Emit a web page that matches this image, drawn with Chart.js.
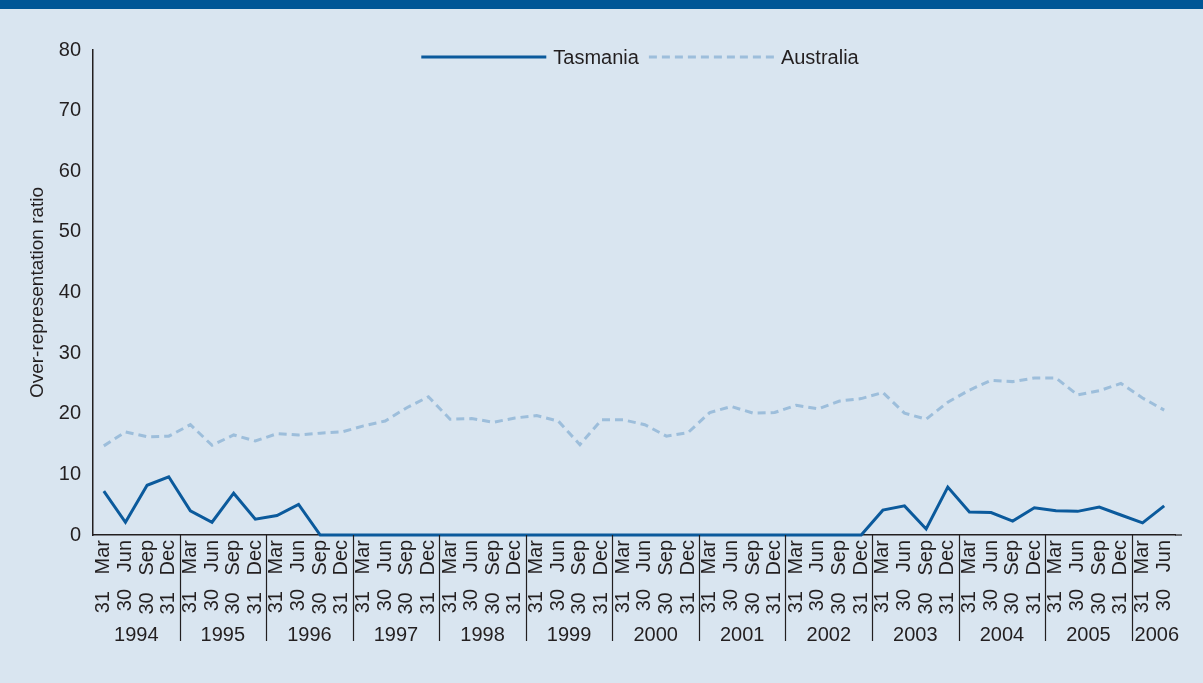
<!DOCTYPE html>
<html>
<head>
<meta charset="utf-8">
<script src="https://cdn.jsdelivr.net/npm/chart.js@4.4.1/dist/chart.umd.min.js"></script>
<style>
  html, body { margin: 0; padding: 0; background: #d9e5f0; }
  #band { position: absolute; left: 0; top: 0; width: 1203px; height: 9px; background: #005696; z-index: 2; }
  #chart { position: absolute; left: 0; top: 0; }
</style>
</head>
<body>
<div id="band"></div>
<canvas id="chart" width="1203" height="683"></canvas>
<script>
const years = ['1994', '1995', '1996', '1997', '1998', '1999', '2000', '2001', '2002', '2003', '2004', '2005', '2006'];
const quarterLabels = ['31 Mar', '30 Jun', '30 Sep', '31 Dec'];
const quartersPerYear = [4, 4, 4, 4, 4, 4, 4, 4, 4, 4, 4, 4, 2];

const tasmania = [
  7.25, 2.1, 8.2, 9.6,
  4.0, 2.1, 6.9, 2.6,
  3.2, 5.05, 0, 0,
  0, 0, 0, 0,
  0, 0, 0, 0,
  0, 0, 0, 0,
  0, 0, 0, 0,
  0, 0, 0, 0,
  0, 0, 0, 0,
  4.1, 4.8, 1.0, 7.9,
  3.8, 3.7, 2.3, 4.5,
  4.0, 3.9, 4.6, 3.3,
  2.0, 4.8
];

const australia = [
  14.7, 17.0, 16.2, 16.3,
  18.2, 14.8, 16.5, 15.5,
  16.7, 16.5, 16.8, 17.0,
  18.0, 18.8, 21.0, 22.8,
  19.1, 19.2, 18.6, 19.3,
  19.7, 18.8, 14.9, 19.0,
  19.0, 18.2, 16.3, 16.9,
  20.2, 21.2, 20.1, 20.2,
  21.4, 20.8, 22.1, 22.5,
  23.5, 20.1, 19.1, 21.9,
  23.9, 25.5, 25.3, 25.9,
  25.9, 23.1, 23.8, 25.0,
  22.6, 20.6
];

// category labels built from the years and quarter names
const labels = [];
years.forEach((y, i) => {
  for (let q = 0; q < quartersPerYear[i]; q++) labels.push(quarterLabels[q]);
});

const TEXT = '#231f20';
const FONT = "'Liberation Sans', Arial, sans-serif";

// legend line inside the plot + year row under the rotated quarter labels
const extras = {
  id: 'extras',
  afterDraw(chart) {
    const x = chart.scales.x;
    const ctx = chart.ctx;
    const area = chart.chartArea;
    const half = (x.getPixelForValue(1) - x.getPixelForValue(0)) / 2;
    const bottom = area.bottom;
    ctx.save();

    // legend
    ctx.font = '20px ' + FONT;
    ctx.textBaseline = 'middle';
    ctx.textAlign = 'left';
    const sets = chart.data.datasets;
    const lineLen = 125, gap = 7, itemGap = 10;
    let total = 0;
    sets.forEach((ds, i) => {
      total += lineLen + gap + ctx.measureText(ds.label).width + (i > 0 ? itemGap : 0);
    });
    let lx = (area.left + area.right) / 2 + 6 - total / 2;
    const ly = 57;
    sets.forEach((ds) => {
      ctx.beginPath();
      ctx.strokeStyle = ds.borderColor;
      ctx.lineWidth = ds.borderWidth;
      ctx.setLineDash(ds.borderDash || []);
      ctx.moveTo(lx, ly);
      ctx.lineTo(lx + lineLen, ly);
      ctx.stroke();
      ctx.setLineDash([]);
      lx += lineLen + gap;
      ctx.fillStyle = TEXT;
      ctx.fillText(ds.label, lx, ly + 1);
      lx += ctx.measureText(ds.label).width + itemGap;
    });

    ctx.strokeStyle = TEXT;
    ctx.lineWidth = 1.2;
    // small extension of the axis line past the last quarter
    ctx.beginPath();
    ctx.moveTo(area.right, bottom);
    ctx.lineTo(area.right + 7, bottom);
    ctx.stroke();

    ctx.fillStyle = TEXT;
    ctx.textAlign = 'center';
    let idx = 0;
    years.forEach((y, i) => {
      const left = x.getPixelForValue(idx) - half;
      let right = x.getPixelForValue(idx + quartersPerYear[i] - 1) + half;
      if (i === years.length - 1) right += 7;
      if (i > 0) {
        ctx.beginPath();
        ctx.moveTo(Math.round(left) + 0.5, bottom);
        ctx.lineTo(Math.round(left) + 0.5, bottom + 106);
        ctx.stroke();
      }
      ctx.fillText(y, (left + right) / 2, 635);
      idx += quartersPerYear[i];
    });
    ctx.restore();
  }
};

new Chart(document.getElementById('chart'), {
  type: 'line',
  data: {
    labels: labels,
    datasets: [{
      label: 'Tasmania',
      data: tasmania,
      borderColor: '#0b5a9c',
      backgroundColor: '#0b5a9c',
      borderWidth: 3,
      pointRadius: 0,
      tension: 0,
      clip: false
    }, {
      label: 'Australia',
      data: australia,
      borderColor: '#9dbedb',
      backgroundColor: '#9dbedb',
      borderWidth: 3,
      borderDash: [8, 5],
      pointRadius: 0,
      tension: 0,
      clip: false
    }]
  },
  options: {
    responsive: false,
    animation: false,
    layout: { padding: { left: 0, right: 28, top: 50, bottom: 0 } },
    plugins: {
      legend: { display: false },
      tooltip: { enabled: false }
    },
    scales: {
      x: {
        offset: true,
        grid: { display: false, drawTicks: false },
        border: { display: true, color: TEXT, width: 1.5 },
        ticks: {
          autoSkip: false,
          maxRotation: 90,
          minRotation: 90,
          padding: 5,
          color: TEXT,
          font: { family: FONT, size: 20 },
          // wider gap between day and month, as in the original
          callback: (v, i) => labels[i].replace(' ', '   ')
        },
        afterFit(scale) { scale.height = 148; }
      },
      y: {
        min: 0,
        max: 80,
        grid: { display: false, drawTicks: false },
        border: { display: true, color: TEXT, width: 1.5 },
        ticks: {
          stepSize: 10,
          padding: 12,
          color: TEXT,
          font: { family: FONT, size: 20 }
        },
        title: {
          display: true,
          text: 'Over-representation ratio',
          color: TEXT,
          font: { family: FONT, size: 19 },
          padding: { top: 26, bottom: 0 }
        },
        afterFit(scale) { scale.width = 93; }
      }
    }
  },
  plugins: [extras]
});
</script>
</body>
</html>
